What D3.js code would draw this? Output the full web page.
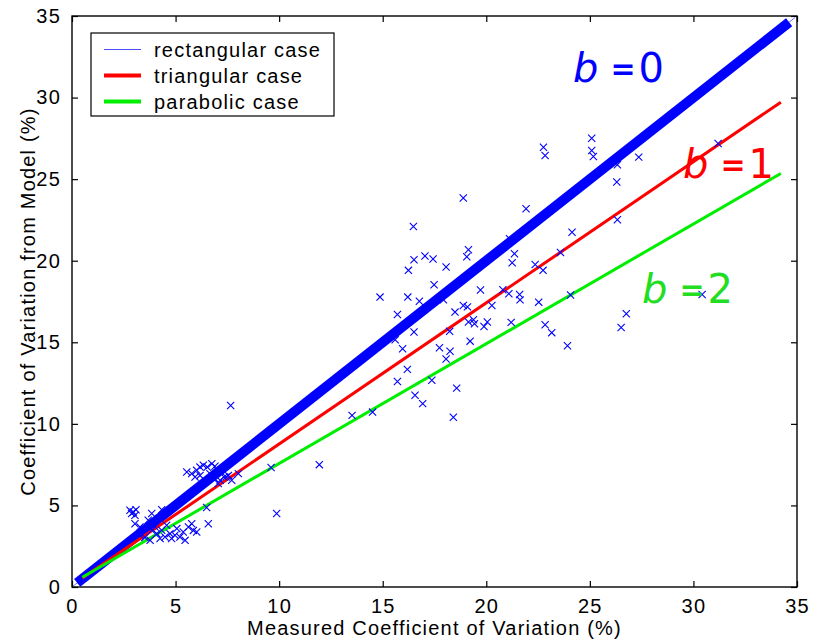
<!DOCTYPE html>
<html>
<head>
<meta charset="utf-8">
<script src="https://cdn.jsdelivr.net/npm/d3@7/dist/d3.min.js"></script>
<style>
  html, body { margin: 0; padding: 0; background: #fff; }
  svg { display: block; }
  text { font-family: "Liberation Sans", Arial, Helvetica, sans-serif; }
</style>
</head>
<body>
<svg id="chart" width="820" height="642"></svg>
<script>
// Axis ticks
const xTicks = [0, 5, 10, 15, 20, 25, 30, 35];
const yTicks = [0, 5, 10, 15, 20, 25, 30, 35];

// Measured vs modelled coefficient of variation (%)
const measuredCV = [
  25.09, 22.76, 22.84, 25.09, 25.17, 26.33, 27.36, 26.30, 31.19, 18.89,
  21.92, 26.33, 24.14, 16.48, 21.12, 21.36, 21.25, 16.51, 17.04, 17.43,
  16.24, 18.06, 19.14, 19.06, 22.36, 22.74, 23.58, 17.48, 14.87, 16.21,
  16.77, 17.93, 19.72, 20.80, 21.09, 21.61, 21.63, 22.53, 24.07, 15.71,
  18.49, 18.89, 19.09, 20.27, 21.20, 22.84, 23.16, 23.92, 26.76, 26.51,
  30.42, 16.51, 15.60, 15.96, 18.23, 19.14, 19.38, 19.43, 19.89, 20.05,
  19.22, 17.74, 18.25, 18.06, 16.19, 15.71, 17.37, 18.57, 16.56, 16.93,
  18.41, 14.51, 13.52, 11.94, 9.61, 9.88, 7.66,
  5.54, 5.78, 6.02, 6.18, 6.34, 6.53, 6.75, 6.90, 7.02, 6.66,
  6.18, 5.94, 6.90, 7.15, 7.55, 7.06, 7.34, 7.71, 8.03, 7.44,
  2.80, 2.96, 3.09, 3.04, 2.88, 3.85, 4.33, 3.04, 3.28, 3.68,
  3.85, 4.09, 4.01, 4.33, 4.57, 4.73, 4.97, 4.81, 5.21, 5.37,
  5.62, 5.86, 6.02, 5.46, 5.06, 4.25, 4.49, 6.50, 6.58, 5.78,
  3.52, 3.77, 3.28
];
const modelCV = [
  27.51, 26.96, 26.45, 26.76, 26.39, 25.88, 26.35, 24.82, 27.19, 23.84,
  23.19, 22.51, 21.75, 22.10, 21.35, 20.43, 19.88, 20.06, 20.29, 20.11,
  19.41, 19.61, 20.67, 20.24, 19.77, 19.41, 20.51, 18.53, 17.77, 17.77,
  17.52, 17.61, 18.21, 18.22, 17.98, 17.93, 17.60, 17.46, 17.90, 16.70,
  16.85, 17.26, 17.17, 17.26, 16.22, 16.07, 15.59, 14.79, 16.75, 15.91,
  17.93, 15.63, 15.16, 14.60, 15.67, 16.24, 16.38, 16.14, 15.97, 16.24,
  15.07, 14.67, 14.45, 13.98, 13.34, 12.60, 12.67, 12.19, 11.75, 11.24,
  10.40, 10.72, 10.52, 7.50, 7.33, 4.50, 11.13,
  7.05, 6.95, 7.15, 7.35, 7.46, 7.35, 7.56, 7.40, 7.15, 6.95,
  6.84, 6.74, 6.64, 6.54, 6.84, 6.34, 6.74, 6.54, 6.95, 6.74,
  4.70, 4.60, 4.74, 4.39, 4.50, 4.50, 4.74, 3.88, 3.68, 4.09,
  3.48, 3.27, 3.68, 3.48, 3.78, 3.27, 3.17, 2.97, 3.06, 3.37,
  3.68, 3.47, 3.37, 2.86, 3.58, 2.97, 3.06, 4.87, 3.88, 3.88,
  3.04, 2.86, 3.17
];

// Model curves for the three source shapes (b = 0, 1, 2)
const caseNames = ["rectangular case", "triangular case", "parabolic case"];
const caseColors = ["#0000ff", "#ff0000", "#00ee00"];
const caseX = [[0.25, 34.62], [0.5, 34.22], [0.5, 34.22]];
const caseY = [[0.25, 34.62], [0.55, 29.72], [0.6, 25.35]];
const caseLabels = ["0", "1", "2"];
const caseLabelColors = ["#0000ff", "#ff0000", "#22dd22"];

const xLabel = "Measured Coefficient of Variation (%)";
const yLabel = "Coefficient of Variation from Model (%)";

const svg = d3.select("#chart");
const margin = { left: 72, right: 23, top: 16, bottom: 55 };
const W = 820, H = 642;

const x = d3.scaleLinear().domain([0, 35]).range([margin.left, W - margin.right]);
const y = d3.scaleLinear().domain([0, 35]).range([H - margin.bottom, margin.top]);

const lineGen = d3.line().x(d => x(d[0])).y(d => y(d[1]));

const plot = svg.append("g");
// thin rectangular-case trace running into the corner (under the band)
plot.append("path")
  .attr("d", lineGen([[0, 0], [34.9, 34.9]]))
  .attr("fill", "none").attr("stroke", "#4a4aff").attr("stroke-width", 0.8);

// Model lines: the b = 0 line is a heavy band, others are medium
const widths = [10, 3, 3];
caseNames.forEach((name, i) => {
  const pts = caseX[i].map((v, j) => [v, caseY[i][j]]);
  plot.append("path")
    .attr("d", lineGen(pts))
    .attr("fill", "none")
    .attr("stroke", caseColors[i])
    .attr("stroke-width", widths[i])
    .attr("stroke-linecap", "butt");
});

// Scatter of measurements as x markers
const s = 3.6;
plot.selectAll("path.pt")
  .data(measuredCV.map((v, i) => [v, modelCV[i]]))
  .join("path")
  .attr("class", "pt")
  .attr("d", d => {
    const cx = x(d[0]), cy = y(d[1]);
    return `M${cx - s},${cy - s}L${cx + s},${cy + s}M${cx - s},${cy + s}L${cx + s},${cy - s}`;
  })
  .attr("stroke", "#0000ff")
  .attr("stroke-width", 1.1)
  .attr("fill", "none");

// Frame and ticks
const frame = svg.append("g");
frame.append("rect")
  .attr("x", x(0)).attr("y", y(35))
  .attr("width", x(35) - x(0)).attr("height", y(0) - y(35))
  .attr("fill", "none").attr("stroke", "#000").attr("stroke-width", 1.4);

const tickLen = 6;
const xAxis = d3.axisBottom(x).tickValues(xTicks).tickSize(-tickLen).tickPadding(12).tickFormat(d3.format("d"));
const yAxis = d3.axisLeft(y).tickValues(yTicks).tickSize(-tickLen).tickPadding(11).tickFormat(d3.format("d"));
const xTop = d3.axisTop(x).tickValues(xTicks).tickSize(-tickLen).tickFormat("");
const yRight = d3.axisRight(y).tickValues(yTicks).tickSize(-tickLen).tickFormat("");

function styleAxis(g) {
  g.select(".domain").remove();
  g.selectAll(".tick line").attr("stroke", "#000").attr("stroke-width", 1.2);
  g.selectAll(".tick text")
    .attr("fill", "#000")
    .style("font-size", "20px")
    .style("letter-spacing", "1.2px")
    .style("font-family", "'Liberation Sans', Arial, sans-serif");
}
frame.append("g").attr("transform", `translate(0,${y(0)})`).call(xAxis).call(styleAxis);
frame.append("g").attr("transform", `translate(${x(0)},0)`).call(yAxis).call(styleAxis);
frame.append("g").attr("transform", `translate(0,${y(35)})`).call(xTop).call(styleAxis);
frame.append("g").attr("transform", `translate(${x(35)},0)`).call(yRight).call(styleAxis);

// Axis titles
svg.append("text")
  .attr("x", (x(0) + x(35)) / 2).attr("y", 635)
  .attr("text-anchor", "middle")
  .style("font-size", "20px").style("letter-spacing", "1.2px")
  .text(xLabel);
svg.append("text")
  .attr("transform", `translate(35,${(y(0) + y(35)) / 2}) rotate(-90)`)
  .attr("text-anchor", "middle")
  .style("font-size", "20px").style("letter-spacing", "1.2px")
  .text(yLabel);

// Legend
const leg = svg.append("g");
leg.append("rect")
  .attr("x", 91).attr("y", 33).attr("width", 243).attr("height", 83)
  .attr("fill", "#fff").attr("stroke", "#000").attr("stroke-width", 1.2);
const legW = [1, 4, 4];
caseNames.forEach((name, i) => {
  const ly = 49.5 + i * 26;
  leg.append("line")
    .attr("x1", 104).attr("x2", 141).attr("y1", ly).attr("y2", ly)
    .attr("stroke", i === 0 ? "#4a4aff" : caseColors[i]).attr("stroke-width", legW[i]);
  leg.append("text")
    .attr("x", 154).attr("y", ly + 7)
    .style("font-size", "20px").style("letter-spacing", "1.2px")
    .text(name);
});

// b labels next to each model line
const labelPos = [[573, 81.7], [683, 178], [642, 303]];
caseLabels.forEach((v, i) => {
  const t = svg.append("text")
    .attr("x", labelPos[i][0]).attr("y", labelPos[i][1])
    .attr("fill", caseLabelColors[i])
    .style("font-family", "'DejaVu Sans', sans-serif")
    .style("font-size", "40px");
  t.append("tspan").style("font-style", "italic").text("b");
  t.append("tspan").attr("dx", 12).attr("dy", -3).style("font-size", "30px").style("font-weight", "bold").text("=");
  t.append("tspan").attr("dx", 3).attr("dy", 3).text(v);
});
</script>
</body>
</html>
